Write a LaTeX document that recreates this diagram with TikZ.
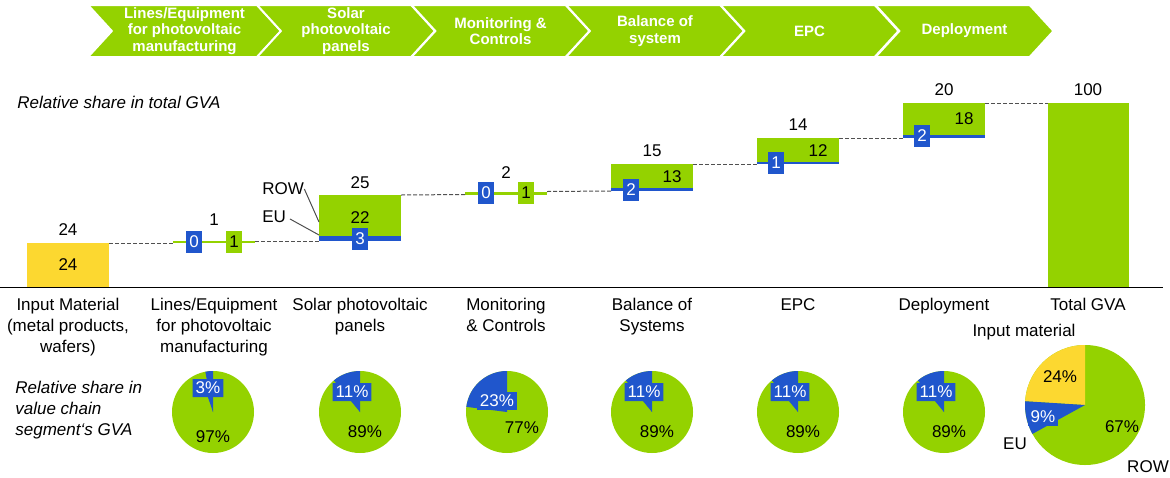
\documentclass[tikz,border=0pt]{standalone}
\usepackage{fontspec}
\setmainfont{Liberation Sans}
\usetikzlibrary{shapes.symbols,shapes.callouts}
\definecolor{rowgreen}{RGB}{148,210,0}
\definecolor{eublue}{RGB}{32,86,204}
\definecolor{inyellow}{RGB}{252,216,48}
\definecolor{linkgray}{RGB}{80,80,80}

\begin{document}
\begin{tikzpicture}[x=0.5pt, y=-0.5pt,
    every node/.style={font=\fontsize{8.5}{10.5}\selectfont, inner sep=0pt},
    chevron/.style={signal, signal from=west, signal to=east, signal pointer angle=95,
        fill=rowgreen, draw=white, line width=1pt, minimum height=26pt, text=white,
        font=\fontsize{7.5}{8.25}\selectfont\bfseries, align=center},
    wfbar/.style={minimum width=41pt, outer sep=0pt},
    eubox/.style={fill=eublue, text=white, minimum width=8pt, minimum height=11pt},
    rowbox/.style={fill=rowgreen, minimum width=8pt, minimum height=11pt},
    pct/.style={rectangle callout, fill=eublue, text=white, inner xsep=1.5pt,
        minimum height=9pt, callout pointer width=2pt},
    pctbox/.style={fill=eublue, text=white, inner xsep=1.5pt, minimum height=9pt},
    pie/.style={circle, fill=rowgreen, minimum size=41pt},
    colhead/.style={anchor=north, align=center},
    link/.style={linkgray, dash pattern=on 2pt off 1pt, line width=0.5pt},
    tag/.style={linkgray, line width=0.5pt}]
    \useasboundingbox (0,0) rectangle (1170,477);

    % value chain steps
    \node[chevron, minimum width=96.5pt] (c1) at (184.5,31) {Lines/Equipment\\for photovoltaic\\manufacturing};
    \node[chevron, minimum width=89pt] (c2) at (346,31) {Solar\\photovoltaic\\panels};
    \node[chevron, minimum width=89pt] (c3) at (500.5,31) {Monitoring \&\\Controls};
    \node[chevron, minimum width=89pt] (c4) at (655,31) {Balance of\\system};
    \node[chevron, minimum width=89pt] (c5) at (809.5,31) {EPC};
    \node[chevron, minimum width=89pt] (c6) at (964.5,31) {Deployment};

    \node[anchor=west, font=\fontsize{8.5}{10.5}\selectfont\itshape] (gvalbl) at (17,102) {Relative share in total GVA};

    % waterfall bars
    \node[wfbar, fill=inyellow, minimum height=22pt] (b0) at (68,265) {24};
    \node[wfbar, fill=rowgreen, minimum height=1pt] (b1) at (214,242) {};
    \node[wfbar, fill=rowgreen, minimum height=23pt] (b2) at (360,218) {22};
    \node[wfbar, fill=eublue, minimum height=2.5pt, anchor=south] (e2) at (b2.south) {};
    \node[wfbar, fill=rowgreen, minimum height=1.5pt] (b3) at (506,193) {};
    \node[wfbar, fill=rowgreen, minimum height=13.5pt] (b4) at (652,177.5) {};
    \node[wfbar, fill=eublue, minimum height=1.75pt, anchor=south] (e4) at (b4.south) {};
    \node[wfbar, fill=rowgreen, minimum height=13pt] (b5) at (798,151) {};
    \node[wfbar, fill=eublue, minimum height=1pt, anchor=south] (e5) at (b5.south) {};
    \node[wfbar, fill=rowgreen, minimum height=17.5pt] (b6) at (944,120.5) {};
    \node[wfbar, fill=eublue, minimum height=1.75pt, anchor=south] (e6) at (b6.south) {};
    \node[wfbar, fill=rowgreen, minimum width=40.5pt, minimum height=92pt] (b7) at (1088,195) {};

    \draw[link] (b0.north east) -- (b1.south west);
    \draw[link] (b1.north east) -- (b2.south west);
    \draw[link] (b2.north east) -- (b3.south west);
    \draw[link] (b3.north east) -- (b4.south west);
    \draw[link] (b4.north east) -- (b5.south west);
    \draw[link] (b5.north east) -- (b6.south west);
    \draw[link] (b6.north east) -- (b7.north west);

    \coordinate (axl) at (0,287.5);
    \coordinate (axr) at (1163,287.5);
    \draw[line width=0.6pt] (axl) -- (axr);

    % totals
    \node (t0) at (68,230) {24};
    \node (t1) at (214,220) {1};
    \node (t2) at (360,183) {25};
    \node (t3) at (506,173) {2};
    \node (t4) at (652,151) {15};
    \node (t5) at (798,125) {14};
    \node (t6) at (944,90) {20};
    \node (t7) at (1088,90) {100};

    % EU / ROW parts
    \node[eubox] (u1) at (194,242) {0};
    \node[rowbox] (r1) at (234,242) {1};
    \node[eubox] (u2) at (360,239) {3};
    \node[eubox] (u3) at (486,193) {0};
    \node[rowbox] (r3) at (526,193) {1};
    \node[eubox] (u4) at (631,190) {2};
    \node (r4) at (672,177) {13};
    \node[eubox] (u5) at (776,163) {1};
    \node (r5) at (818,151) {12};
    \node[eubox] (u6) at (922,136) {2};
    \node (r6) at (964,119) {18};

    \node[anchor=west] (rowtag) at (262,189) {ROW};
    \node[anchor=west] (eutag) at (262,217) {EU};
    \coordinate (rowend) at (319,222);
    \coordinate (euend) at (319,235);
    \draw[tag] (rowtag.east) -- (rowend);
    \draw[tag, shorten <=2pt] (eutag.east) -- (euend);

    % segment names
    \node[colhead] (h0) at (68,298) {Input Material\\(metal products,\\wafers)};
    \node[colhead] (h1) at (214,298) {Lines/Equipment\\for photovoltaic\\manufacturing};
    \node[colhead] (h2) at (360,298) {Solar photovoltaic\\panels};
    \node[colhead] (h3) at (506,298) {Monitoring\\\& Controls};
    \node[colhead] (h4) at (652,298) {Balance of\\Systems};
    \node[colhead] (h5) at (798,298) {EPC};
    \node[colhead] (h6) at (944,298) {Deployment};
    \node[colhead] (h7) at (1088,298) {Total GVA};

    \node[anchor=north west, align=left, font=\fontsize{8.5}{10.5}\selectfont\itshape] (pielbl) at (15,381)
        {Relative share in\\value chain\\segment‘s GVA};

    % pies
    \node[pie] (p1) at (213,412) {};
    \fill[eublue] (p1.center) -- ++(90:20.5pt) arc[start angle=90, end angle=100.8, radius=20.5pt] -- cycle;
    \node[pct, callout absolute pointer={(p1.center)}] (q1) at (208,388) {3\%};
    \node (g1) at (213,437) {97\%};

    \node[pie] (p2) at (360,412) {};
    \fill[eublue] (p2.center) -- ++(90:20.5pt) arc[start angle=90, end angle=129.6, radius=20.5pt] -- cycle;
    \node[pct, callout absolute pointer={(p2.center)}] (q2) at (352,392) {11\%};
    \node (g2) at (365,432) {89\%};

    \node[pie] (p3) at (507,412) {};
    \fill[eublue] (p3.center) -- ++(90:20.5pt) arc[start angle=90, end angle=172.8, radius=20.5pt] -- cycle;
    \node[pctbox] (q3) at (497,401) {23\%};
    \node (g3) at (522,428) {77\%};

    \node[pie] (p4) at (652,412) {};
    \fill[eublue] (p4.center) -- ++(90:20.5pt) arc[start angle=90, end angle=129.6, radius=20.5pt] -- cycle;
    \node[pct, callout absolute pointer={(p4.center)}] (q4) at (644,392) {11\%};
    \node (g4) at (657,432) {89\%};

    \node[pie] (p5) at (798,412) {};
    \fill[eublue] (p5.center) -- ++(90:20.5pt) arc[start angle=90, end angle=129.6, radius=20.5pt] -- cycle;
    \node[pct, callout absolute pointer={(p5.center)}] (q5) at (790,392) {11\%};
    \node (g5) at (803,432) {89\%};

    \node[pie] (p6) at (944,412) {};
    \fill[eublue] (p6.center) -- ++(90:20.5pt) arc[start angle=90, end angle=129.6, radius=20.5pt] -- cycle;
    \node[pct, callout absolute pointer={(p6.center)}] (q6) at (936,392) {11\%};
    \node (g6) at (949,432) {89\%};

    % total GVA pie
    \node[pie, minimum size=60pt] (p7) at (1085,405) {};
    \fill[inyellow] (p7.center) -- ++(90:30pt) arc[start angle=90, end angle=176.4, radius=30pt] -- cycle;
    \fill[eublue] (p7.center) -- ++(176.4:30pt) arc[start angle=176.4, end angle=208.8, radius=30pt] -- cycle;
    \node (g7a) at (1060,377) {24\%};
    \node[pctbox] (q7) at (1043,417) {9\%};
    \node (g7b) at (1122,427) {67\%};
    \node (inlbl) at (1024,332) {Input material};
    \node (eulbl) at (1015,444) {EU};
    \node (rowlbl) at (1148,467) {ROW};
\end{tikzpicture}
\end{document}
